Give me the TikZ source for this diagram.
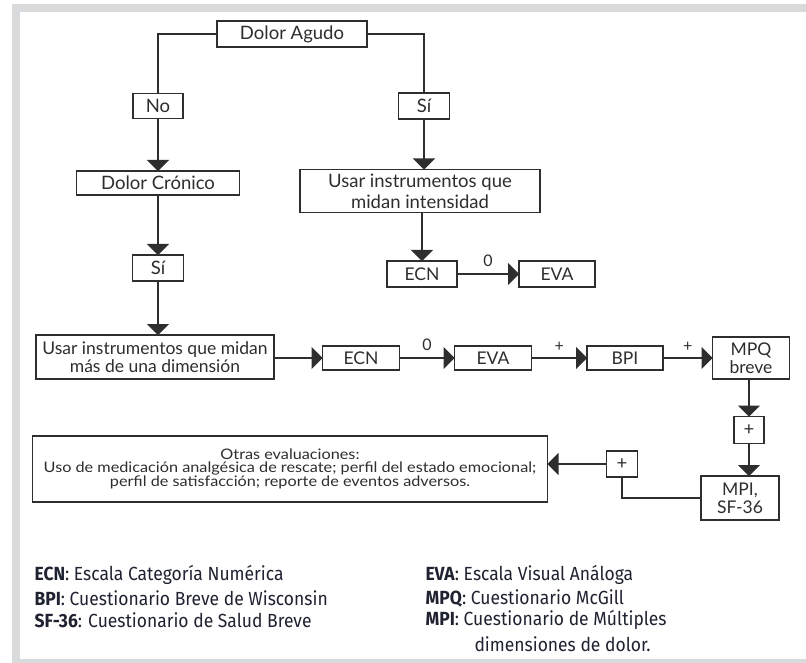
\documentclass[tikz,border=0pt]{standalone}
\usepackage{fontspec}
\setmainfont{Lato}
\newfontfamily\legfont[FakeStretch=0.92]{Fira Sans}
\newfontfamily\widefont[FakeStretch=1.12]{Lato}
\usetikzlibrary{arrows.meta,positioning}
\definecolor{framegray}{HTML}{D9DADC}
\definecolor{ink}{HTML}{2E2E2E}
\definecolor{legink}{HTML}{1F2230}

\begin{document}
\begin{tikzpicture}[x=1pt,y=-1pt,>={Triangle[length=11pt,width=22pt]},box/.style={draw=ink,line width=1.3pt,fill=white,inner sep=0pt,outer sep=0pt,align=center,text=ink,font=\fontsize{18.5}{21}\selectfont},sbox/.style={box,font=\fontsize{17.5}{18}\selectfont},arr/.style={->,line width=1.3pt,draw=ink},lnk/.style={line width=1.3pt,draw=ink},lbl/.style={font=\fontsize{16}{17}\selectfont,text=ink},leg/.style={anchor=west,text=legink,font=\legfont\fontsize{19}{20}\selectfont}]
\useasboundingbox (0,0) rectangle (806,663);
\fill[framegray] (12,4) rectangle (806,663);\fill[white] (20,12) rectangle (806,659);
% decision boxes
\node[box,minimum width=150pt,minimum height=26pt] (agudo) at (292,34) {Dolor Agudo};
\node[box,minimum width=50pt,minimum height=25pt] (no) at (158,106) {No};
\node[box,minimum width=51pt,minimum height=26pt] (si2) at (424,106) {Sí};
\node[box,minimum width=163pt,minimum height=24pt] (cronico) at (158,183) {Dolor Crónico};
\node[box,minimum width=51pt,minimum height=26pt] (si1) at (158,268) {Sí};
\node[box,minimum width=240pt,minimum height=43pt] (inten) at (420,191) {Usar instrumentos que\\midan intensidad};
\node[sbox,minimum width=70pt,minimum height=26pt] (ecnA) at (422,274) {ECN};
\node[sbox,minimum width=76pt,minimum height=26pt] (evaA) at (557,274) {EVA};
% second row
\node[sbox,minimum width=238pt,minimum height=44pt] (multi) at (155,357) {Usar instrumentos que midan\\más de una dimensión};
\node[sbox,minimum width=77pt,minimum height=24pt] (ecnB) at (361,358) {ECN};
\node[sbox,minimum width=77pt,minimum height=24pt] (evaB) at (493,358) {EVA};
\node[sbox,minimum width=76pt,minimum height=24pt] (bpi) at (625,358) {BPI};
\node[sbox,minimum width=77pt,minimum height=42pt] (mpq) at (751,358) {MPQ\\breve};
\node[lbl,box,minimum width=30pt,minimum height=27pt] (plusA) at (749,430) {+};
\node[sbox,minimum width=78pt,minimum height=44pt] (mpi) at (740,498) {MPI,\\SF-36};
\node[lbl,box,minimum width=31pt,minimum height=26pt] (plusB) at (622,464) {+};
\node[box,minimum width=515pt,minimum height=66pt,font=\widefont\fontsize{14.5}{13}\selectfont] (otras) at (290,469) {Otras evaluaciones:\\Uso de medicación analgésica de rescate; perfil del estado emocional;\\perfil de satisfacción; reporte de eventos adversos.};
% connectors
\draw[lnk] (agudo.west) -| (no.north);\draw[lnk] (agudo.east) -| (si2.north);
\draw[arr] (no) -- (cronico);\draw[arr] (cronico) -- (si1);\draw[arr] (si1.south) -- (si1.south |- multi.north);
\draw[arr] (si2.south) -- (si2.south |- inten.north);\draw[arr] (inten.south -| ecnA) -- (ecnA);
\draw[arr] (ecnA) -- node[lbl,above=3pt] {0} (evaA);
\draw[arr] (multi.east |- ecnB) -- (ecnB);
\draw[arr] (ecnB) -- node[lbl,above=3pt] {0} (evaB);
\draw[arr] (evaB) -- node[lbl,above=3pt] {+} (bpi);
\draw[arr] (bpi) -- node[lbl,above=3pt] {+} (mpq.west |- bpi);
\draw[arr] (mpq.south -| plusA) -- (plusA);\draw[arr] (plusA.south) -- (plusA.south |- mpi.north);
\draw[lnk] (mpi.west) -| (plusB.south);\draw[arr] (plusB.west) -- (otras.east |- plusB);
% legend
\node[leg] (lecn) at (31,575) {\textbf{ECN}: Escala Categoría Numérica};
\node[leg] (lbpi) at (31,598) {\textbf{BPI}: Cuestionario Breve de Wisconsin};
\node[leg] (lsf) at (31,620) {\textbf{SF-36}: Cuestionario de Salud Breve};
\node[leg] (leva) at (422,575) {\textbf{EVA}: Escala Visual Análoga};
\node[leg] (lmpq) at (422,598) {\textbf{MPQ}: Cuestionario McGill};
\node[leg] (lmpi) at (422,620) {\textbf{MPI}: Cuestionario de Múltiples};
\node[leg] (ldim) at (471,644) {dimensiones de dolor.};
\end{tikzpicture}
\end{document}
